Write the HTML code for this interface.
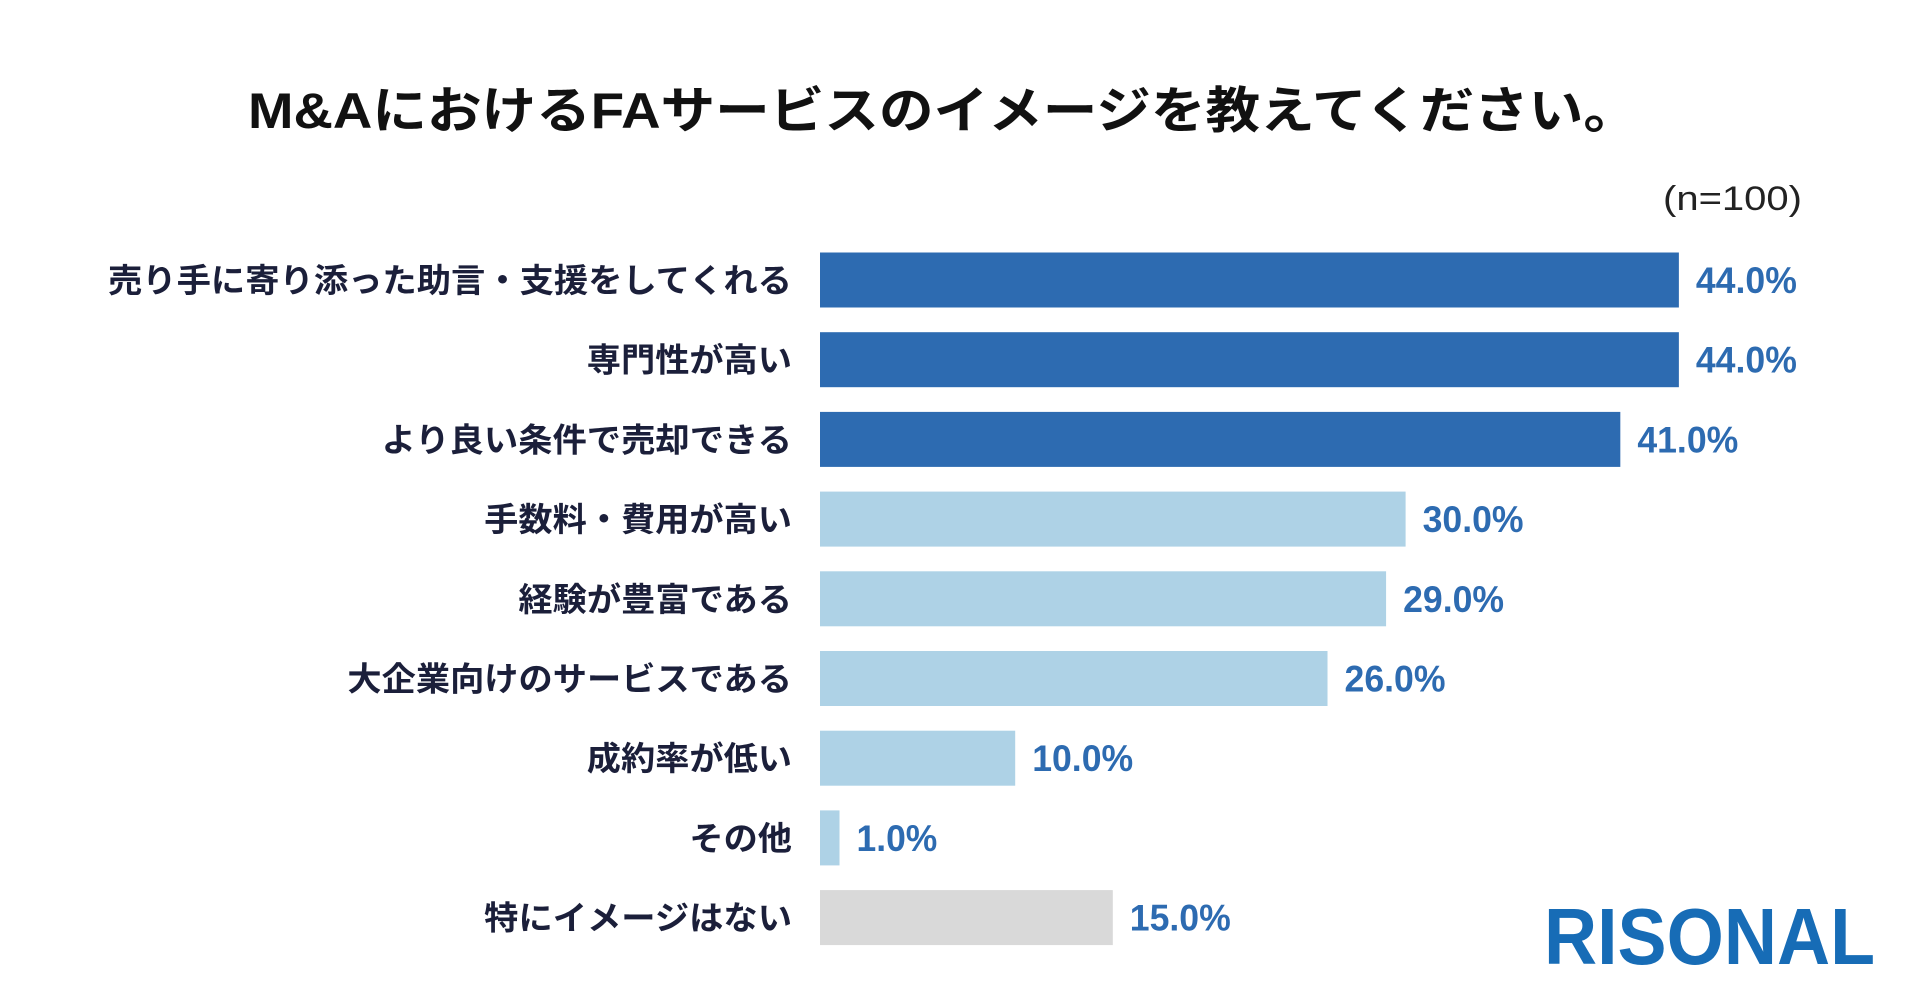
<!DOCTYPE html>
<html><head><meta charset="utf-8">
<style>
html,body{margin:0;padding:0;background:#fff;}
svg{display:block;}
text{font-family:"Liberation Sans","Noto Sans CJK JP",sans-serif;}
</style></head>
<body>
<svg id="chart" width="1920" height="1005" viewBox="0 0 1920 1005">
  <text x="943" y="128" text-anchor="middle" font-size="50" font-weight="bold" fill="#111" textLength="1390" lengthAdjust="spacingAndGlyphs">M&amp;AにおけるFAサービスのイメージを教えてください。</text>
  <text x="1802" y="210" text-anchor="end" font-size="34" fill="#222" textLength="139" lengthAdjust="spacingAndGlyphs">(n=100)</text>
  <g id="bars"></g>
  <text x="1544" y="964" font-size="80" font-weight="bold" fill="#176cb6" textLength="331" lengthAdjust="spacingAndGlyphs">RISONAL</text>
</svg>
<script>
const categories = ["売り手に寄り添った助言・支援をしてくれる","専門性が高い","より良い条件で売却できる","手数料・費用が高い","経験が豊富である","大企業向けのサービスである","成約率が低い","その他","特にイメージはない"];
const values = [44.0,44.0,41.0,30.0,29.0,26.0,10.0,1.0,15.0];
const valueLabels = ["44.0%","44.0%","41.0%","30.0%","29.0%","26.0%","10.0%","1.0%","15.0%"];
const colorGroups = ["top","top","top","mid","mid","mid","mid","mid","none"];

const x0 = 820, pxPer = 19.52;
const xScale = v => x0 + v * pxPer;
const y0 = 280, step = 79.7;
const yScale = i => y0 + i * step;
const barH = 55;
const colorMap = {top:"#2d6bb1", mid:"#aed2e6", none:"#d9d9d9"};
const NS = "http://www.w3.org/2000/svg";
const g = document.getElementById("bars");
categories.forEach((c, i) => {
  const cy = yScale(i);
  const r = document.createElementNS(NS, "rect");
  r.setAttribute("x", x0);
  r.setAttribute("y", cy - barH / 2);
  r.setAttribute("width", xScale(values[i]) - x0);
  r.setAttribute("height", barH);
  r.setAttribute("fill", colorMap[colorGroups[i]]);
  
  
  g.appendChild(r);

  const t = document.createElementNS(NS, "text");
  t.setAttribute("x", 792);
  t.setAttribute("y", cy + 12);
  t.setAttribute("text-anchor", "end");
  t.setAttribute("font-size", "33");
  t.setAttribute("font-weight", "bold");
  t.setAttribute("fill", "#1b1f3a");
  t.setAttribute("textLength", c.length * 34.2);
  t.setAttribute("lengthAdjust", "spacingAndGlyphs");
  t.textContent = c;
  
  
  g.appendChild(t);

  const v = document.createElementNS(NS, "text");
  v.setAttribute("x", xScale(values[i]) + 17);
  v.setAttribute("y", cy + 13);
  v.setAttribute("font-size", "37");
  v.setAttribute("font-weight", "bold");
  v.setAttribute("fill", "#2d6bb1");
  v.setAttribute("textLength", valueLabels[i].length * 20.2);
  v.setAttribute("lengthAdjust", "spacingAndGlyphs");
  v.textContent = valueLabels[i];
  
  
  g.appendChild(v);
});
</script>
</body></html>
